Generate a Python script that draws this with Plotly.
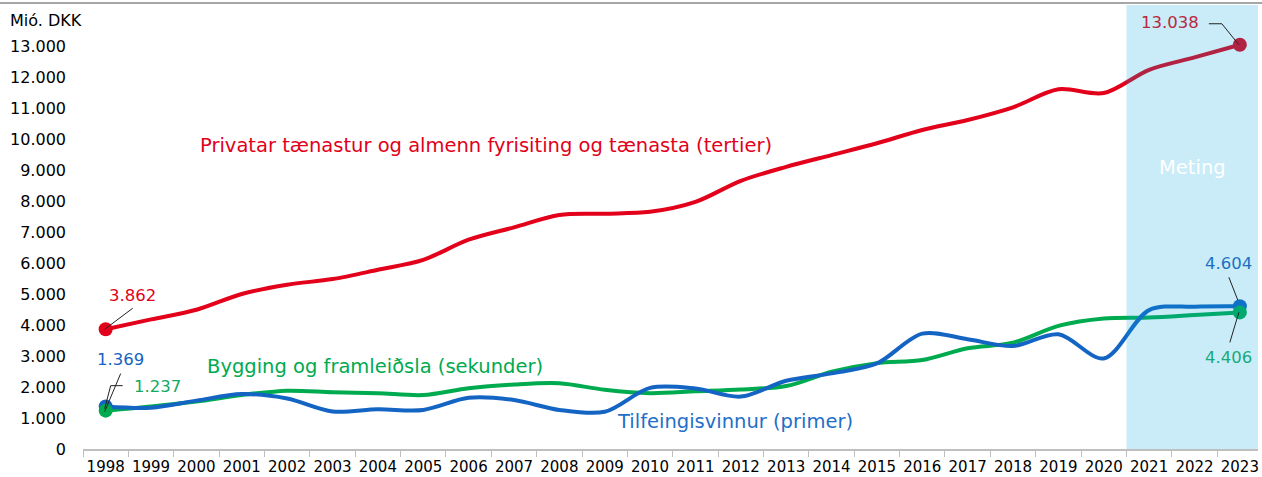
import plotly.graph_objects as go

years = list(range(1998, 2024))
tertiary = [3862, 4180, 4490, 5000, 5300, 5480, 5780, 6100, 6750, 7150, 7550, 7590, 7650,
            7970, 8650, 9100, 9480, 9860, 10290, 10610, 11020, 11600, 11480, 12230, 12630, 13038]
primary = [1369, 1330, 1560, 1770, 1630, 1210, 1280, 1260, 1650, 1580, 1260, 1200, 1970,
           1950, 1690, 2200, 2440, 2760, 3720, 3540, 3320, 3700, 2920, 4480, 4590, 4604]
secondary = [1237, 1370, 1530, 1740, 1880, 1830, 1800, 1740, 1960, 2080, 2120, 1910, 1800,
             1860, 1920, 2030, 2490, 2770, 2870, 3250, 3430, 3970, 4210, 4240, 4320, 4406]

y_ticks = list(range(0, 14000, 1000))
forecast_start = 2020.5

names = {
    "tertiary": "Privatar tænastur og almenn fyrisiting og tænasta (tertier)",
    "secondary": "Bygging og framleiðsla (sekunder)",
    "primary": "Tilfeingisvinnur (primer)",
}

RED = "#E2001A"
BLUE = "#1464C3"
GREEN = "#00AA4F"
FONT = "DejaVu Sans"

fig = go.Figure()
for vals, col in [(tertiary, RED), (secondary, GREEN), (primary, BLUE)]:
    fig.add_trace(go.Scatter(x=years, y=vals, mode="lines",
                             line=dict(color=col, width=4, shape="spline", smoothing=0.9),
                             hoverinfo="skip", showlegend=False))
for vals, col in [(tertiary, RED), (primary, BLUE), (secondary, GREEN)]:
    fig.add_trace(go.Scatter(x=[years[0], years[-1]], y=[vals[0], vals[-1]], mode="markers",
                             marker=dict(color=col, size=14), hoverinfo="skip", showlegend=False))

def fmt(v):
    return f"{v:,}".replace(",", ".")

# forecast shading (above traces, semi transparent)
fig.add_shape(type="rect", xref="x", yref="paper", x0=forecast_start, x1=2023.4, y0=0, y1=1,
              fillcolor="rgba(0,164,221,0.21)", line=dict(width=0), layer="above")
# top gray rule
fig.add_shape(type="line", xref="paper", yref="paper", x0=-0.071, x1=1.004, y0=1.0045, y1=1.0045,
              line=dict(color="#A6A6A6", width=2))

def leader(x, y, pts):
    for (a, b), (c, d) in zip(pts[:-1], pts[1:]):
        fig.add_shape(type="line", xref="x", yref="y", xsizemode="pixel", ysizemode="pixel",
                      xanchor=x, yanchor=y, x0=a, y0=b, x1=c, y1=d,
                      line=dict(color="#222222", width=1))

leader(years[0], tertiary[0], [(-1, 0), (27, 21)])
leader(years[0], primary[0], [(-1, -5), (15, 33)])
leader(years[0], secondary[0], [(-1, 2), (5, 25), (17, 25)])
leader(years[-1], tertiary[-1], [(-1, 0), (-18, 21), (-31, 21)])
leader(years[-1], primary[-1], [(-2, 6), (-11, 29)])
leader(years[-1], secondary[-1], [(-1, 0), (-10, -30)])

def ann(x, y, text, color, size, xanchor="center", xshift=0, yshift=0, xref="x", yref="y"):
    fig.add_annotation(x=x, y=y, xref=xref, yref=yref, text=text, showarrow=False,
                       xanchor=xanchor, yanchor="middle", xshift=xshift, yshift=yshift,
                       font=dict(family=FONT, size=size, color=color))

ann(years[0], tertiary[0], fmt(tertiary[0]), RED, 16.5, xshift=27, yshift=34)
ann(years[0], primary[0], fmt(primary[0]), BLUE, 16.5, xshift=15, yshift=47)
ann(years[0], secondary[0], fmt(secondary[0]), "#12A860", 16.5, xanchor="left", xshift=26, yshift=24)
ann(years[-1], tertiary[-1], fmt(tertiary[-1]), "#B72940", 16.5, xanchor="right", xshift=-39, yshift=22)
ann(years[-1], primary[-1], fmt(primary[-1]), "#1E70C2", 16.5, xshift=-11, yshift=43)
ann(years[-1], secondary[-1], fmt(secondary[-1]), "#18AA7A", 16.5, xshift=-11, yshift=-45)

ann(2000.03, 9774, names["tertiary"], RED, 19.5, xanchor="left")
ann(2000.18, 2645, names["secondary"], GREEN, 19.5, xanchor="left")
ann(2009.22, 903, names["primary"], "#1E6FC8", 19.5, xanchor="left")
ann(2021.96, 9065, "Meting", "white", 19.5)
ann(-0.064, 0.966, "Mió. DKK", "black", 16, xanchor="left", xref="paper", yref="paper")

fig.update_layout(
    width=1262, height=477,
    margin=dict(l=83, r=4, t=5, b=28),
    plot_bgcolor="white", paper_bgcolor="white",
    separators=",.",
    font=dict(family=FONT, color="black"),
    xaxis=dict(range=[1997.5, 2023.4], tickmode="array", tickvals=years,
               ticktext=[str(y) for y in years], ticks="", showgrid=False, zeroline=False,
               showline=True, linecolor="#BFBFBF", linewidth=2, ticklabelstandoff=3,
               automargin=False,
               tickfont=dict(family=FONT, size=15, color="black"),
               minor=dict(tickmode="linear", tick0=1997.5, dtick=1, ticks="outside",
                          ticklen=6, tickcolor="#BFBFBF", tickwidth=1, showgrid=False)),
    yaxis=dict(range=[0, 14320], tickmode="array", tickvals=y_ticks,
               ticktext=[fmt(v) for v in y_ticks], showgrid=False, zeroline=False,
               showline=False, ticks="", ticklabelstandoff=16, automargin=False,
               tickfont=dict(family=FONT, size=16, color="black")),
)

fig.write_html("out.html", config={"displayModeBar": False},
               post_script="document.body.style.margin='0';")
